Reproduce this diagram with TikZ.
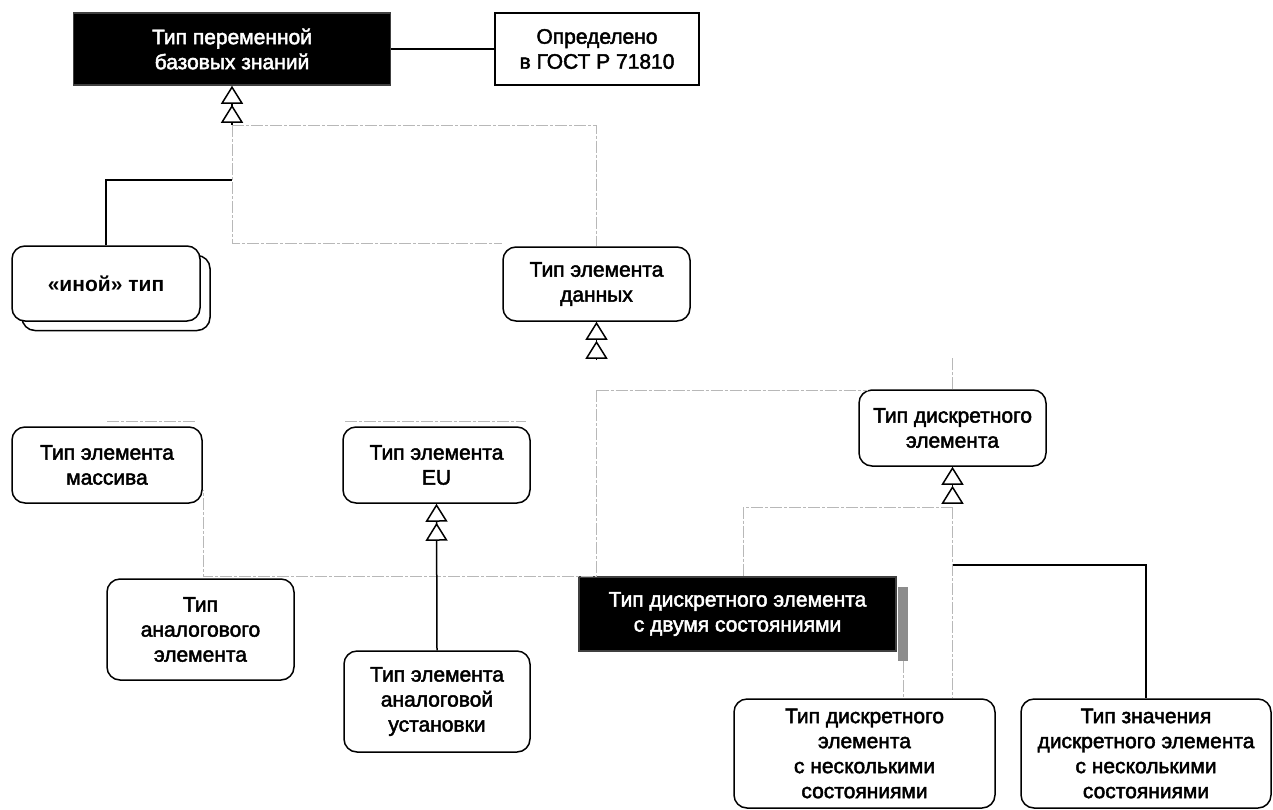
\documentclass[tikz,border=0pt]{standalone}
\usepackage{fontspec}
\setmainfont{Liberation Sans}[FakeBold=2.2]
\newfontfamily\realbold{Liberation Sans Bold}
\usetikzlibrary{arrows.meta,calc}
\begin{document}
\begin{tikzpicture}[x=1pt,y=-1pt,
  box/.style={draw=black, line width=1.5pt, fill=white, font=\fontsize{21}{25}\selectfont, align=center, inner sep=0pt},
  rbox/.style={box, rounded corners=13pt},
  dark/.style={box, fill=black, text=white, draw=black!75},
  conn/.style={draw=black, line width=1.5pt},
  faint/.style={draw=black!28, line width=1pt, dash pattern=on 12pt off 2pt on 3pt off 2pt},
  gen/.style={conn, -{Triangle[length=18pt, width=22pt, fill=white, sep=1pt] Triangle[length=18pt, width=22pt, fill=white]}}
]
\useasboundingbox (0,0) rectangle (1273,809);
\fill[white] (0,0) rectangle (1273,809);

% nodes
\node[dark, minimum width=317pt, minimum height=72pt] (top) at (232,49) {Тип переменной\\базовых знаний};
\node[box, minimum width=204pt, minimum height=72pt] (gost) at (597,49) {Определено\\в ГОСТ Р 71810};
\node[rbox, minimum width=188pt, minimum height=75pt] (othershadow) at (116,293) {};
\node[rbox, minimum width=188pt, minimum height=75pt] (other) at (106,283.5) {\realbold «иной» тип};
\node[rbox, minimum width=187pt, minimum height=74pt] (data) at (596.5,284) {Тип элемента\\данных};
\node[rbox, minimum width=190pt, minimum height=76pt] (mass) at (107,465) {Тип элемента\\массива};
\node[rbox, minimum width=187pt, minimum height=76pt] (eu) at (436.5,465) {Тип элемента\\EU};
\node[rbox, minimum width=187pt, minimum height=101pt] (analog) at (200.5,629.5) {Тип\\аналогового\\элемента};
\node[rbox, minimum width=186pt, minimum height=101pt] (ustan) at (437,701.5) {Тип элемента\\аналоговой\\установки};
\node[rbox, minimum width=187pt, minimum height=76pt] (disc) at (952.5,428) {Тип дискретного\\элемента};
\node[fill=black!45, minimum width=10pt, minimum height=74pt, inner sep=0pt] (bar) at (903,624) {};
\node[dark, minimum width=317pt, minimum height=74pt] (two) at (737.5,614) {Тип дискретного элемента\\с двумя состояниями};
\node[rbox, minimum width=261pt, minimum height=109pt] (multi) at (864.5,753.5) {Тип дискретного\\элемента\\с несколькими\\состояниями};
\node[rbox, minimum width=250pt, minimum height=109pt] (value) at (1146,753.5) {Тип значения\\дискретного элемента\\с несколькими\\состояниями};

% coordinates
\coordinate (j1) at (232,125);
\coordinate (b1) at (232,243);
\coordinate (jo) at (232,180);
\coordinate (j2) at (596.5,360);
\coordinate (c2) at (596.5,390);
\coordinate (c3) at (203,576);
\coordinate (j4) at (952.5,504);
\coordinate (c4) at (952.5,507);
\coordinate (j5) at (952.5,565);

% faint connectors
\draw[faint] (j1) -| (data.north);
\draw[faint] (j1) -- (b1) -- (b1 -| data.west);
\draw[faint] (c2) -- ($(c2 -| disc.west)+(10,0)$);
\draw[faint] (c2) |- (c3) -- ++(0,-86);
\draw[faint] (disc.north) -- ++(0,-32);
\draw[faint] (c4) -| ([xshift=5.5pt]two.north);
\draw[faint] (c4) -- (c4 |- multi.north);
\draw[faint] (bar.south) -- (bar.south |- multi.north);
\draw[faint] ($(eu.north west)+(3,-5)$) -- ($(eu.north east)+(-5,-5)$);
\draw[faint] ($(mass.north)+(0,-5)$) -- ($(mass.north east)+(-7,-5)$);

% solid connectors
\draw[conn] (top.east) -- (gost.west);
\draw[gen] (j1) -- (top.south);
\draw[conn] (other.north) |- (jo);
\draw[gen] (j2) -- (data.south);
\draw[gen] (ustan.north) -- (eu.south);
\draw[gen] (j4) -- (disc.south);
\draw[conn] (j5) -| (value.north);
\end{tikzpicture}
\end{document}
